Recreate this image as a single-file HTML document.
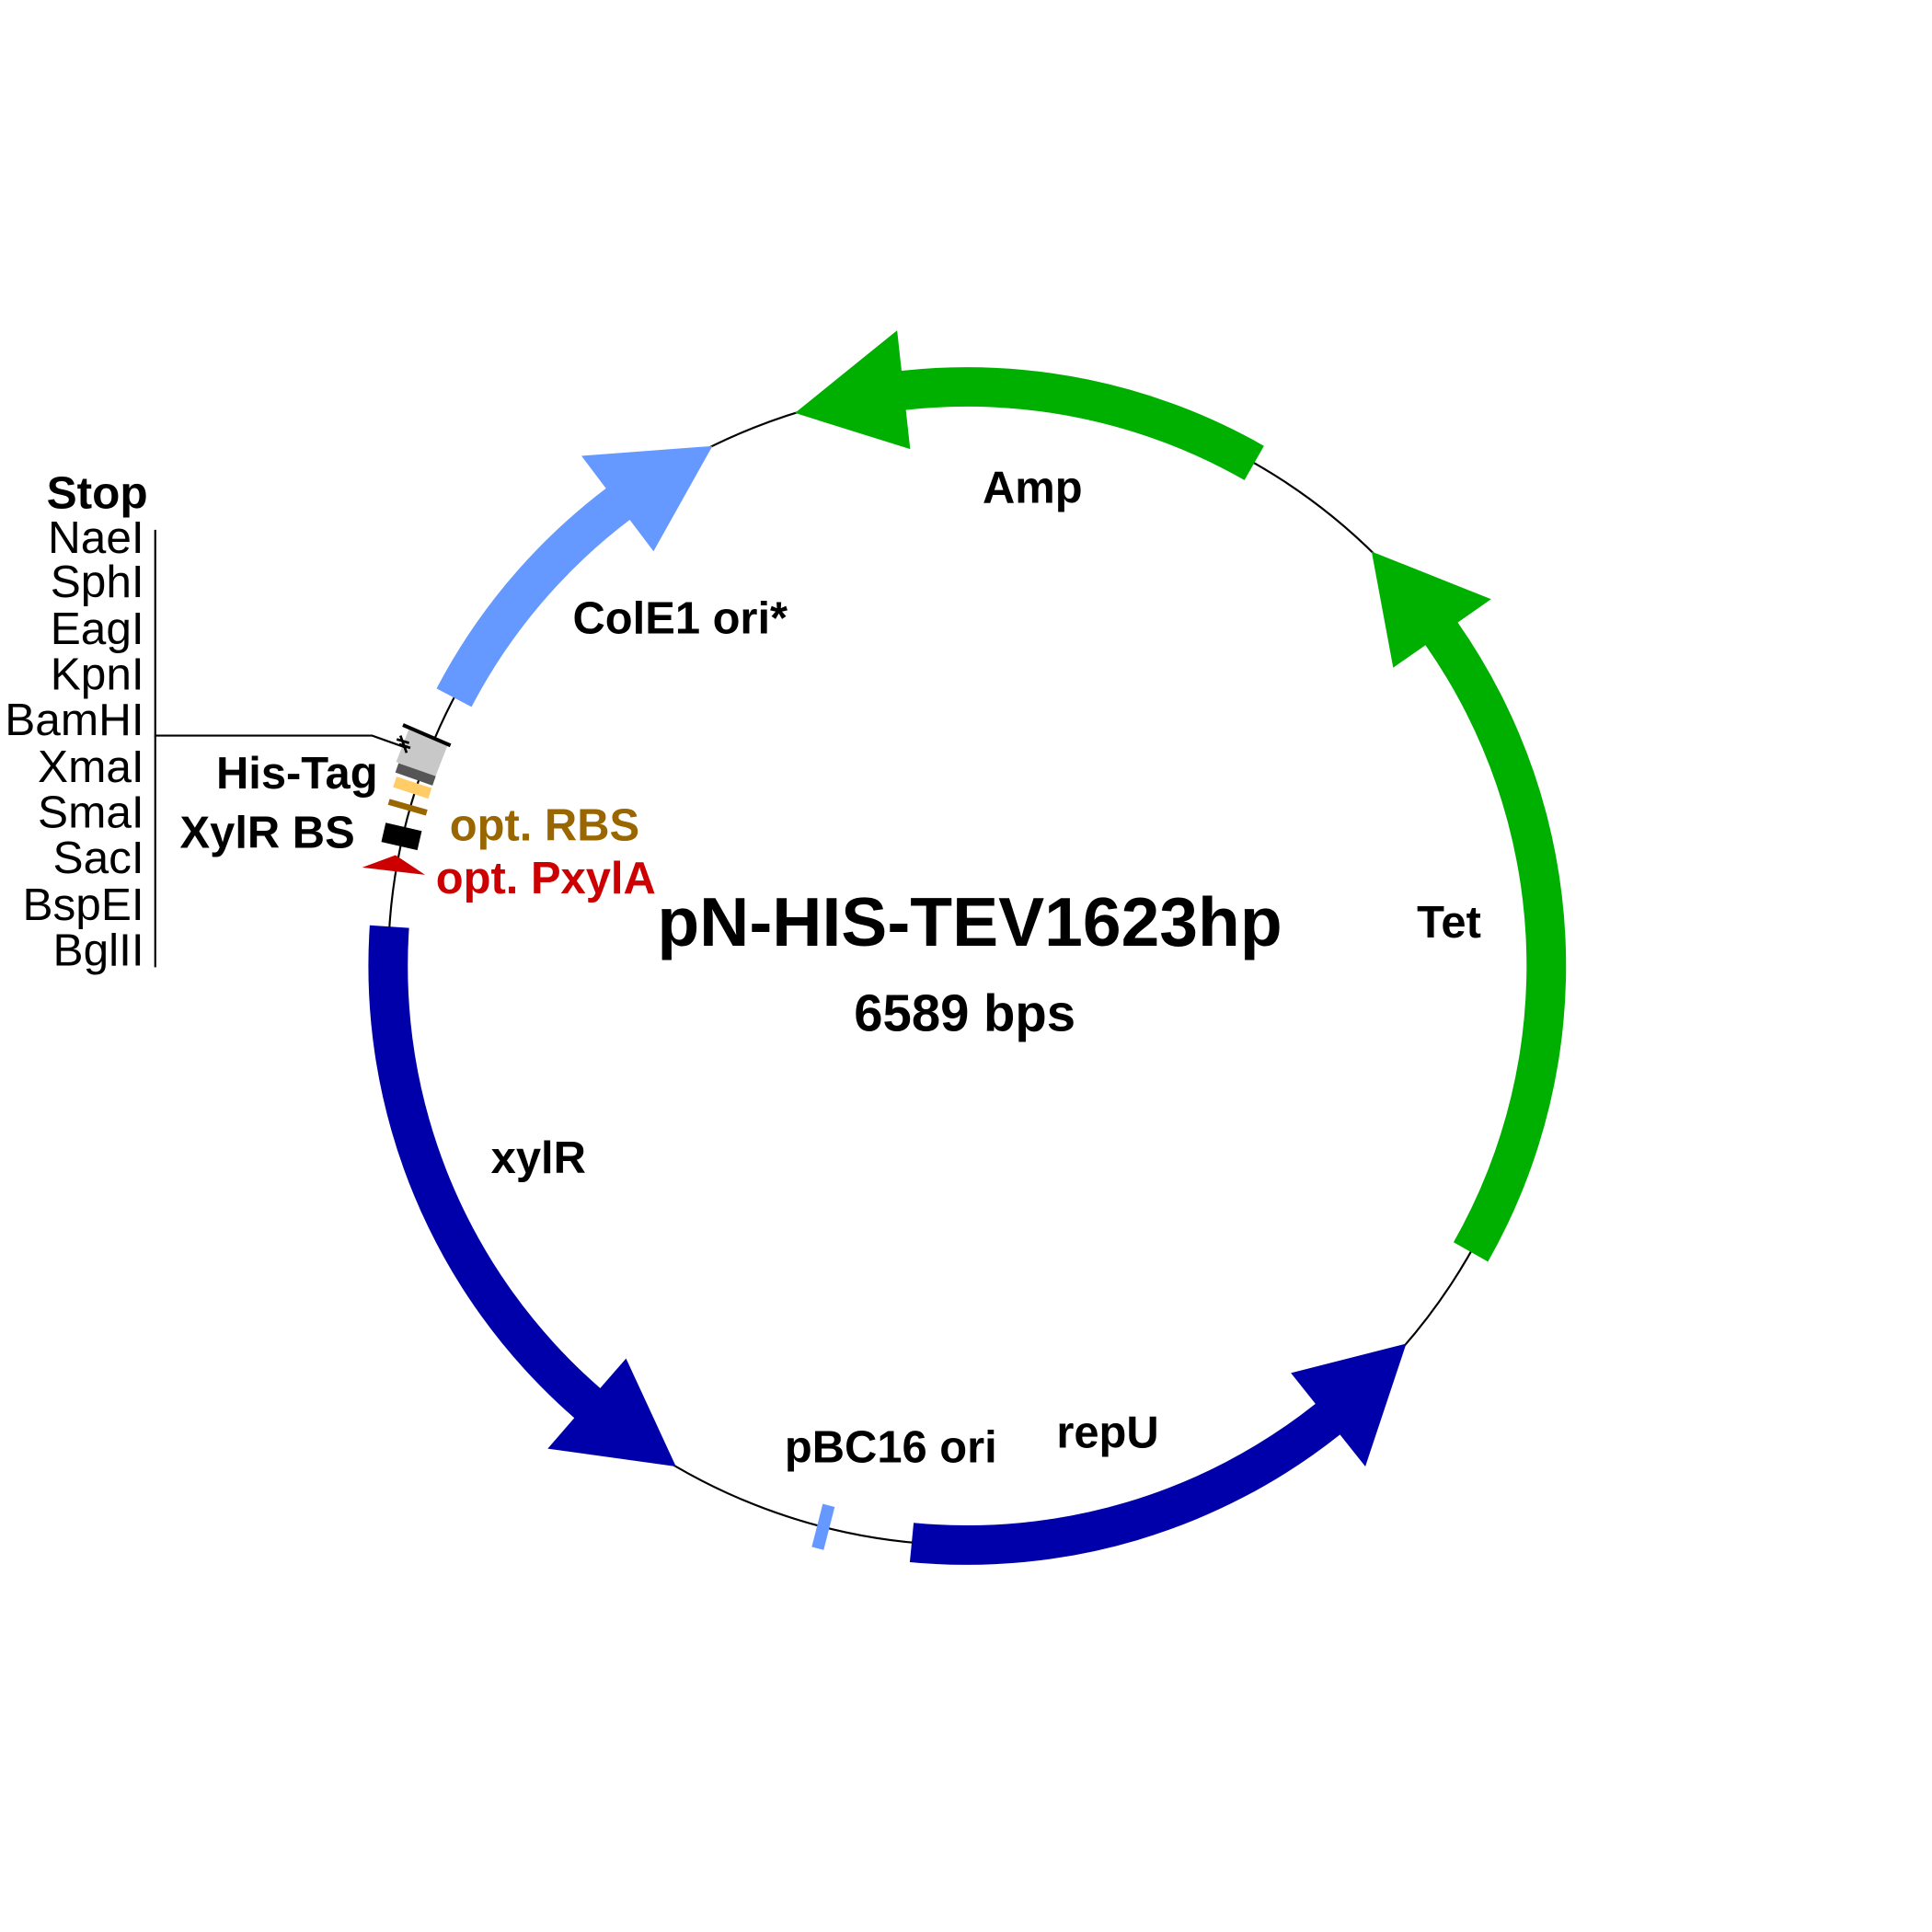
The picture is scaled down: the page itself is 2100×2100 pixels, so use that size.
<!DOCTYPE html>
<html><head><meta charset="utf-8"><style>
html,body{margin:0;padding:0;background:#fff}
svg{display:block}
text{font-family:"Liberation Sans",Arial,sans-serif}
</style></head><body>
<svg width="2100" height="2100" viewBox="0 0 1568 1568" xmlns="http://www.w3.org/2000/svg">
<rect width="1568" height="1568" fill="#fff"/>
<circle cx="785" cy="784" r="470" fill="none" stroke="#000" stroke-width="1.6"/>

<!-- Amp -->
<path d="M1025.8,361.9 A486,486 0 0 0 731.7,300.9 L728.1,268.1 L645.2,335.2 L738.7,364.5 L735.2,332.7 A454,454 0 0 1 1010,389.7 Z" fill="#00b000"/>
<!-- Tet -->
<path d="M1207.6,1024 A486,486 0 0 0 1183.1,505.2 L1210.2,486.3 L1113.2,447.6 L1130.7,541.9 L1156.9,523.6 A454,454 0 0 1 1179.7,1008.2 Z" fill="#00b000"/>
<!-- repU -->
<path d="M738.4,1267.8 A486,486 0 0 0 1087.5,1164.3 L1108.1,1190.2 L1141.3,1090.5 L1047.7,1114.3 L1067.6,1139.3 A454,454 0 0 1 741.5,1235.9 Z" fill="#0000aa"/>
<!-- xylR -->
<path d="M300.1,751 A486,486 0 0 0 466.1,1150.8 L444.5,1175.7 L548.6,1190.2 L508.1,1102.5 L487.1,1126.6 A454,454 0 0 1 332,753.1 Z" fill="#0000aa"/>
<!-- ColE1 -->
<path d="M354.3,558.8 A486,486 0 0 1 491.8,396.4 L471.9,370 L578.2,362 L530.4,447.4 L511.1,421.9 A454,454 0 0 0 382.7,573.7 Z" fill="#6699ff"/>

<!-- pBC16 ori -->
<rect x="780" y="296" width="10" height="36" fill="#6699ff" transform="rotate(194.4 785 784)"/>

<!-- small features -->
<rect x="771" y="292" width="28" height="34" fill="#c8c8c8" transform="rotate(291.3 785 784)"/>
<rect x="779" y="294" width="8" height="32" fill="#555" transform="rotate(289.4 785 784)"/>
<rect x="779" y="296" width="9" height="30" fill="#ffcc66" transform="rotate(288 785 784)"/>
<rect x="782" y="296" width="5" height="32" fill="#996600" transform="rotate(285.9 785 784)"/>
<rect x="777" y="298" width="16" height="30" fill="#000" transform="rotate(282.9 785 784)"/>
<rect x="782" y="286" width="3" height="42" fill="#000" transform="rotate(293.3 785 784)"/>
<polygon points="294,704 321,694 345,710 319,707" fill="#cc0000"/>
<g stroke="#000" stroke-width="2">
<line x1="322" y1="600" x2="332" y2="603"/>
<line x1="324" y1="604" x2="333" y2="607"/>
<line x1="325" y1="597" x2="330" y2="611"/>
</g>

<!-- MCS connector -->
<polyline points="126,430 126,597 302,597 330,607" fill="none" stroke="#000" stroke-width="1.6"/>
<line x1="126" y1="597" x2="126" y2="785" stroke="#000" stroke-width="1.6"/>

<g font-size="37" text-anchor="end" fill="#000" dominant-baseline="central">
<text x="120" y="400" font-weight="bold">Stop</text>
<text x="117" y="436">NaeI</text>
<text x="117" y="472">SphI</text>
<text x="117" y="510">EagI</text>
<text x="117" y="547">KpnI</text>
<text x="117" y="584">BamHI</text>
<text x="117" y="622">XmaI</text>
<text x="117" y="659">SmaI</text>
<text x="117" y="696">SacI</text>
<text x="117" y="734">BspEI</text>
<text x="117" y="771">BglII</text>
</g>

<g font-size="36.5" font-weight="bold" dominant-baseline="central" text-anchor="middle" fill="#000">
<text x="838" y="396">Amp</text>
<text x="552" y="502">ColE1 ori*</text>
<text x="1176" y="749">Tet</text>
<text x="899" y="1163">repU</text>
<text x="723" y="1175">pBC16 ori</text>
<text x="437" y="940">xylR</text>
<text x="241" y="628">His-Tag</text>
<text x="217" y="676">XylR BS</text>
<text x="442" y="670" fill="#996600">opt. RBS</text>
<text x="443" y="713" fill="#cc0000">opt. PxylA</text>
<text x="787" y="748" font-size="56">pN-HIS-TEV1623hp</text>
<text x="783" y="822" font-size="42">6589 bps</text>
</g>
</svg>
</body></html>
